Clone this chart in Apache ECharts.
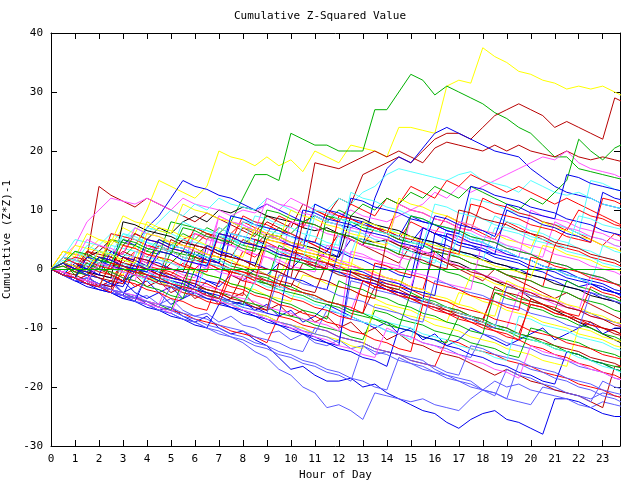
<!DOCTYPE html>
<html><head><meta charset="utf-8">
<script src="https://cdn.jsdelivr.net/npm/echarts@6/dist/echarts.min.js"></script>
<style>html,body{margin:0;padding:0;background:#fff}#c{width:640px;height:480px}</style>
</head><body><div id="c"></div>
<script>
const chartTitle = 'Cumulative Z-Squared Value';
const xName = 'Hour of Day';
const yName = 'Cumulative (Z*Z)-1';
const hours = [0,0.5,1,1.5,2,2.5,3,3.5,4,4.5,5,5.5,6,6.5,7,7.5,8,8.5,9,9.5,10,10.5,11,11.5,12,12.5,13,13.5,14,14.5,15,15.5,16,16.5,17,17.5,18,18.5,19,19.5,20,20.5,21,21.5,22,22.5,23,23.5,24];

const s01 = [0,2,1,3,5,4,7,6,10,15,14,13,12,14,20,19,18.5,17.5,19,17.5,18.5,16.5,20,19,18,21,20.5,20,19,24,24,23.5,23,31,32,31.5,37.5,36,35,33.5,33,32,31.5,30.5,31,30.5,31,30,29];
const s02 = [0,1,0,2,1,3,2,4,3,5,4,6,5,7,6,8,12,16,16,15,23,22,21,21,20,20,20,27,27,30,33,32,29.5,31,30,29,28,26.5,25.5,24,23,21,19,19,17,16.5,16,15.5,15];
const s03 = [0,-1,1,0,2,1,3,2,1,4,3,5,4,6,5,4,7,6,9,8,7,11,10,9,12,11,16,17,18,19,18,20,22,23,23,22,24,26,27,28,27,26,24,25,24,23,22,29,28];
const s04 = [0,1,0,-1,1,0,2,1,0,-1,1,3,2,4,3,2,5,4,6,5,8,7,18,17.5,17,18,19,20,19,20,19,18,20.5,21.5,21,20.5,20,21,20,21,20,19.5,19,20,19,18.5,19,18.5,18];
const s05 = [0,-1,-2,-1,-3,-2,-4,-3,-2,-4,-3,-5,-4,-2,-3,-1,-2,0,-1,1,0,2,1,3,2,5,4,12,17,19,18,20.5,23,24,23,22,21,20,19.5,19,17,15.5,14,13,12.5,12,11,10.5,10];
const s06 = [0,-1,-2,-3,-3.5,-4,-5,-4.5,-6,-7,-6.5,-8,-9,-8,-10,-11,-10.5,-12,-13,-15,-17,-16.5,-18,-19,-19,-18.5,-20,-19.5,-21,-22,-23,-24,-24.5,-26,-27,-25.5,-24.5,-24,-25.5,-26,-27,-28,-22,-22,-22.5,-23.5,-24.5,-25,-25];
const s07 = [0,-1,-1.5,-2.5,-3,-4,-4.5,-5.5,-6,-7,-7.5,-8.5,-9,-10,-11,-11.5,-12.5,-14,-15,-17,-18,-20,-21,-23.5,-23,-24,-25.5,-21,-21.5,-22,-22.5,-22,-23,-23.5,-24,-22,-20.5,-21,-22,-22.5,-23,-20,-20.5,-21,-21.5,-22,-21,-21.5,-22];
const s08 = [0,-0.5,-1.5,-2,-3,-2.5,-4,-5,-4.5,-6,-5,-7,-8,-7.5,-9,-8,-9.5,-10,-11,-10.5,-12,-11,-12.5,-13,-12,-13.5,-13,-14.5,-14,-14.5,-15,-15.5,-17,-18,-18.5,-19,-20.5,-19,-20,-19.5,-20.5,-21,-21.5,-22,-23,-23.5,-22.5,-23,-23.5];
const s09 = [0,1,0,-1,0,-1,-2,-1,-3,-2,-4,-3,-5,-4,-6,-5,-4,-6,-7,-6,-8,-7,-9,-8,-10,-9,-11,-10,-12,-11,-12.5,-13,-14,-14.5,-15,-16,-17,-18,-17,-18,-19,-19.5,-20.5,-21,-21.5,-22.5,-23.5,-16.5,-16.5];
const s10 = [0,1,0,2,3,5,4,6,5,7,6,8,9,8,10,9.5,10.5,10,9,8.5,8,7,6.5,7,6,5.5,5,4.5,5,4,3,2.5,3,1.5,1,0,-1,-2,-3,-3.5,-5,-6,-7,-8,-9,-10,-11,-12,-13];
const s11 = [0,1,3,2,14,12.5,11.5,10.5,12,11,10,9,8,9.5,8.5,7.5,6.5,5.5,8,7,6,5,4,3,6,5,4,3,2,1,4,3,2,1,0,-1,-2,0,-1,-2,-3,-4,-5,-4,-5,-6,-7,-8,-9];
const s12 = [0,-1,1,0,3,2,5,4,7,9,12,15,14,13.5,12.5,12,11,10,11,10,9,8,9,8,7.5,7,8,7,6,5,4.5,7,6,5,4,3.5,3,2,1.5,1,0,-0.5,-1.5,-2,-3,-2.5,-3.5,-4,-5];
const s13 = [0,2,4,8,10,12,11.5,11,12,11,10,12,11,10.5,10,9,10,9.5,11,10,12,11,10,9.5,9,10,9,8.5,8,9,10,11,13,12,14,13,14,15,16,17,18,19,18.5,20,18,17,16.5,16,15];
const s14 = [0,1,3,2,4,6,5,7,6,8,10,9,11,10,12,11,10.5,10,12,11,10,9,11,10,12,11,13,14,16,17,16.5,16,15.5,15,16,16.5,15,14.5,14,13,15,14,13,12.5,13,12,11,10.5,10];
const s15 = [0,-1,0,1,0,2,1,3,2,4,3,5,6,5,7,6,8,7,6,9,8,7,10,9,8,11,10,9,12,11,14,13,12,15,14,16,15,14,13,14,13,12,11,12,11,10,9,8,7];
const s16 = [0,1,-1,0,1,-1,-2,-1,0,2,1,3,2,4,3,5,4,6,5,7,6,8,9,8,10,9,11,10,12,11,13,12,14,13,12,14,13,12,11,10,12,11,13,15,22,20,18.5,20.5,21.5];
const s17 = [0,-1,-2,-1,-3,-2,-1,-3,-2,0,-1,1,0,2,1,-1,3,2,4,3,2,5,4,3,6,5,4,7,6,5,8,7,6,9,8,7,6,5,8,7,6,5,4,7,6,5,4,6,5];
const s18 = [0,-1,-2,-1.5,-2.5,-3,-2,-4,-5,-4,-6,-5,-3,-4,-5,-6,-5.5,-7,-6,-8,-7,-9,-8,-6,-7,-8,-9,-10,-9,-11,-10,-12,-11,-13,-12,-10,-11,-12,-13,-12,-11,-10,-12,-11,-10,-9,-11,-10,-10];
const s19 = [0,-0.5,-1.5,2,1.5,1,0,-0.5,-1.5,-2,3,2.5,2,1,0.5,-0.5,-1,-1.5,-2.5,4,3,2.5,2,1,0,-0.5,-1.5,-2,-3,-3.5,2,1,0.5,-0.5,-1,-2,-2.5,-3.5,-4,-5,-5.5,-6,-7,-2,-3,-3.5,-4.5,-5,-6];
const s20 = [0,1,0,-0.5,-1,3,2.5,2,1,0.5,0,-1,-1.5,5,4.5,4,3,2.5,2,1,8,7.5,7,6,5.5,5,4,3.5,3,2,1.5,7,6.5,6,5,4.5,4,3,2.5,2,10,9,8.5,8,7,6.5,6,5,4.5];
const s21 = [0,-1,-1.5,-2,1,0.5,0,-1,-1.5,-2,-3,2,1.5,1,0,-0.5,-1,-2,-2.5,3,2.5,2,1,0.5,6,5.5,5,4,3.5,3,2,1.5,1,7,6.5,6,5,4.5,4,3,2.5,8,7.5,7,6,5.5,5,4,3.5];
const s22 = [0,-0.5,-1,-2,-2.5,-3,1,0.5,0,-1,-1.5,-2,-3,-3.5,-4,-5,-1,-1.5,-2,-3,-3.5,-4,-5,-5.5,-6,-7,-7.5,-3,-3.5,-4.5,-5,-6,-6.5,-7,-8,-8.5,-9,-10,-10.5,-11,-6,-6.5,-7.5,-8,-9,-9.5,-10,-11,-11.5];
const s23 = [0,2,1.5,1,0,-0.5,-1,3,2.5,2,1,0.5,-0.5,-1,-1.5,-2.5,-3,-3.5,-4.5,-5,-5.5,-1,-1.5,-2.5,-3,-3.5,-4.5,-5,-6,-6.5,-7,-8,-8.5,-9,-4,-4.5,-5.5,-6,-7,-7.5,-8,-9,-9.5,-10,-11,-11.5,-12,-13,-13.5];
const s24 = [0,-1,-1.5,-2.5,-3,-3.5,-4.5,-5,-5.5,-6.5,-3,-3.5,-4,-5,-5.5,-6,-7,-7.5,-8,-9,-9.5,-10,-11,-7,-7.5,-8.5,-9,-9.5,-10.5,-11,-11.5,-12.5,-13,-13.5,-14.5,-15,-11,-11.5,-12.5,-13,-13.5,-14.5,-15,-15.5,-16.5,-17,-17.5,-18.5,-19];
const s25 = [0,3,2.5,2,1,0.5,0,-1,4,3.5,3,2,1.5,1,0,-0.5,-1,-2,-2.5,-3,2,1.5,1,0,-0.5,-1,-2,-2.5,-3,-4,-4.5,-5,-6,-6.5,-7,-8,-8.5,-4,-4.5,-5.5,-6,-6.5,-7.5,-8,-8.5,-9.5,-10,-10.5,-11.5];
const s26 = [0,-1,-1.5,-2,-3,-3.5,-4,-5,-5.5,-6,-7,-2,-2.5,-3.5,-4,-4.5,-5.5,-6,-6.5,-7.5,-8,-8.5,-9.5,-10,-10.5,-11.5,-12,-7,-7.5,-8.5,-9,-9.5,-10.5,-11,-11.5,-12.5,-13,-13.5,-14.5,-15,-10,-10.5,-11.5,-12,-12.5,-13.5,-14,-14.5,-15.5];
const s27 = [0,1,0.5,0,-1,-1.5,-2,2,1.5,1,0,-0.5,-1,-2,-2.5,6,5.5,5,4,3.5,3,2,1.5,1,0,-0.5,-1,-2,-2.5,-3,-4,5,4.5,4,3,2.5,2,1,0.5,0,-1,-1.5,-2,-3,-3.5,-4,-5,-5.5,-6];
const s28 = [0,-0.5,-1.5,-2,2,1.5,1,0,-0.5,-1,-2,-2.5,-3,1,0.5,0,-1,-1.5,-2,-3,-3.5,-4,-5,-5.5,-6,-7,-2,-2.5,-3.5,-4,-4.5,-5.5,-6,-6.5,-7.5,-8,-8.5,-9.5,-10,-4,-4.5,-5,-6,-6.5,-7,-8,-8.5,-9,-10];
const s29 = [0,2,5,4.5,4,3,2.5,2,7,6.5,6,5,4.5,4,3,9,8.5,8,7,6.5,6,5,4.5,4,3,2.5,8,7.5,7,6,5.5,5,4,3.5,3,2,1.5,7,6.5,6,5,4.5,4,3,2.5,2,1,0.5,0];
const s30 = [0,-1,-1.5,-2.5,-3,-3.5,-4.5,-5,-5.5,-6.5,-7,-7.5,-8.5,-9,-9.5,-10.5,-11,-11.5,-12.5,-8,-8.5,-9.5,-10,-10.5,-11.5,-12,-12.5,-13.5,-14,-14.5,-15.5,-16,-16.5,-12,-12.5,-13.5,-14,-14.5,-15.5,-16,-16.5,-17.5,-18,-18.5,-19.5,-20,-20.5,-21.5,-22];
const s31 = [0,1,4,3.5,3,2,1.5,1,0,5,4.5,4,3,2.5,2,1,0.5,0,-1,-1.5,3,2.5,2,1,0.5,0,-1,-1.5,-2,-3,-3.5,-4,-5,-5.5,-6,-1,-1.5,-2.5,-3,-3.5,-4.5,-5,-5.5,-6.5,-7,-7.5,-8.5,-9,-9.5];
const s32 = [0,-0.5,-1.5,-2,-2.5,-3.5,-4,-4.5,-5.5,-6,-6.5,-7.5,-8,-8.5,-9.5,-10,-10.5,-11.5,-12,-12.5,-13.5,-14,-10,-10.5,-11.5,-12,-12.5,-13.5,-14,-14.5,-15.5,-16,-16.5,-17.5,-18,-13,-13.5,-14.5,-15,-15.5,-16.5,-17,-17.5,-18.5,-19,-19.5,-20.5,-21,-21.5];
const s33 = [0,2,1.5,1,0,6,5.5,5,4,3.5,3,2,1.5,1,0,-0.5,-1,-2,5,4.5,4,3,2.5,2,1,0.5,0,-1,-1.5,-2,-3,-3.5,3,2.5,2,1,0.5,0,-1,-1.5,-2,-3,4,3.5,3,2,1.5,1,0];
const s34 = [0,-1,-1.5,-2,-3,1,0.5,0,-1,-1.5,-2,-3,-3.5,-4,-5,-5.5,-6,-2,-2.5,-3.5,-4,-4.5,-5.5,-6,-6.5,-7.5,-8,-8.5,-9.5,-10,-10.5,-11.5,-12,-12.5,-8,-8.5,-9.5,-10,-10.5,-11.5,-12,-12.5,-13.5,-14,-14.5,-15.5,-16,-16.5,-17];
const s35 = [0,-1,-2,-2.5,-3.5,-4,-5,-5.5,-6.5,-7,-8,-8.5,-9.5,-10,-6,-6.5,-7.5,-8,-9,-9.5,-10.5,-11,-12,-12.5,-13.5,-14,-15,-15.5,-16.5,-10,-10.5,-11.5,-12,-13,-13.5,-14.5,-15,-16,-16.5,-17.5,-18,-19,-19.5,-14,-14.5,-15.5,-16,-17,-17.5];
const s36 = [0,1,0.5,-0.5,-1,-1.5,-2.5,3,2.5,1.5,1,0.5,6,5.5,4.5,4,3.5,2.5,2,1.5,0.5,0,-0.5,4,3.5,2.5,2,1.5,0.5,0,9,8.5,7.5,7,6.5,5.5,5,4.5,3.5,3,2.5,1.5,1,0.5,-0.5,-1,-1.5,-2.5,-3];
const s37 = [0,1.5,1,0.5,-0.5,4,3.5,3,2,1.5,1,0,7,6.5,6,5,4.5,4,3,2.5,2,1,0.5,0,-1,8,7.5,7,6,5.5,5,4,3.5,3,2,12,11.5,11,10,9.5,9,8,7.5,7,6,15,14.5,13.5,13];
const s38 = [0,-0.5,-1.5,3,2.5,2,1,0.5,0,-1,-1.5,-2,2,1.5,1,0,-0.5,-1,-2,-2.5,-3,1,0.5,0,-1,-1.5,-2,-3,-3.5,-4,-5,-5.5,-6,-7,-7.5,-8,-9,-9.5,-10,-11,-11.5,-12,-13,-13.5,-14,-15,-15.5,-16,-17];
const s39 = [0,3,2.5,2,1,0.5,0,-1,-1.5,-2,-3,-3.5,-4,-5,-5.5,-6,-7,-7.5,-8,-9,-9.5,-10,-11,-11.5,-12,-13,-13.5,-6,-6.5,-7.5,-8,-8.5,-9.5,-10,-10.5,-11.5,-12,-12.5,-13.5,-14,-14.5,-15.5,-16,-16.5,-10,-10.5,-11.5,-12,-12.5];
const s40 = [0,-1,-1.5,-2.5,1,0.5,-0.5,-1,-1.5,-2.5,-3,-3.5,-4.5,-5,-5.5,-6.5,-7,-7.5,-8.5,-9,-9.5,-10.5,-11,-11.5,-12.5,-2,-2.5,-3.5,-4,-4.5,-5.5,-6,-6.5,-7.5,-8,-8.5,-9.5,-10,-3,-3.5,-4.5,-5,-5.5,-6.5,-7,-7.5,-8.5,-9,-9.5];
const s41 = [0,0.5,-0.5,-1,-1.5,-2.5,2,1.5,0.5,0,-0.5,-1.5,-2,-2.5,-3.5,-4,-4.5,5,4.5,3.5,3,2.5,1.5,1,0.5,-0.5,-1,-1.5,-2.5,-3,-3.5,-4.5,-5,-5.5,-6.5,-7,-7.5,-8.5,-9,-9.5,-10.5,-11,-11.5,-12.5,-13,-13.5,-14.5,-15,-15.5];
const s42 = [0,2,1.5,1,0,5,4.5,4,3,2.5,8,7.5,7,6,5.5,5,4,3.5,3,2,1.5,1,0,9,8.5,8,7,6.5,6,5,4.5,4,3,2.5,2,1,0.5,0,-1,-1.5,-2,-3,-3.5,-4,-5,-5.5,-6,-7,-7.5];
const s43 = [0,-1,-1.5,-2.5,-3,-3.5,-4.5,0,-0.5,-1.5,-2,-2.5,-3.5,-4,-4.5,-5.5,-6,-6.5,-7.5,-8,2,1.5,0.5,0,-0.5,-1.5,-2,-2.5,-3.5,-4,-4.5,-5.5,6,5.5,4.5,4,3.5,2.5,2,1.5,0.5,0,-0.5,-1.5,-2,-2.5,-3.5,-4,-4.5];
const s44 = [0,-0.5,-1.5,-2,-2.5,-3.5,-4,-4.5,-5.5,-6,-1,-1.5,-2.5,-3,-3.5,-4.5,-5,-5.5,-6.5,-7,-7.5,-8.5,-9,-9.5,-10.5,3,2.5,1.5,1,0.5,-0.5,-1,-1.5,-2.5,-3,-3.5,5,4.5,3.5,3,2.5,1.5,1,0.5,-0.5,-1,-1.5,-2.5,-3];
const s45 = [0,-1,2,1.5,1,0,-0.5,-1,-2,-2.5,-3,-4,-4.5,1,0.5,0,-1,-1.5,-2,-3,-3.5,-4,-5,-5.5,-6,-7,-7.5,-8,-9,-9.5,-10,-11,-11.5,-12,-13,-13.5,-14,-15,-15.5,-8,-8.5,-9.5,-10,-10.5,-11.5,-12,-12.5,-13.5,-14];
const s46 = [0,1,0.5,-0.5,-1,-1.5,8,7.5,6.5,6,5.5,4.5,4,3.5,2.5,2,1.5,0.5,6,5.5,4.5,4,3.5,2.5,2,9,8.5,7.5,7,6.5,5.5,5,4.5,3.5,3,2.5,1.5,1,0.5,-0.5,-1,-1.5,-2.5,-3,-3.5,-4.5,-5,-5.5,-6.5];
const s47 = [0,1,-0.5,2,4,3,2.5,6,5,4.5,3.5,3,7,6,5.5,4.5,9,8,7.5,6.5,6,5,4.5,10,9,8.5,7.5,7,6,11,10,9.5,8.5,8,7,6.5,12,11,10.5,9.5,9,8,7.5,6.5,10,9,8.5,7.5,7];
const s48 = [0,-1,1,0,-1,3,2,1.5,0.5,5,4,3.5,2.5,2,1,8,7,6.5,5.5,5,4,3.5,11,10,9.5,8.5,8,7,6.5,5.5,9,8,7.5,6.5,6,5,4.5,3.5,3,2,1.5,0.5,0,-1,-1.5,-2.5,-3,-4,-4.5];
const s49 = [0,2,1,4,3,2.5,6,5.5,4.5,4,3,8,7,6.5,5.5,5,4,9,8.5,7.5,7,6,5.5,4.5,4,13,12,11.5,10.5,10,9,8.5,7.5,7,6,5.5,4.5,9,8,7.5,6.5,6,5,4.5,3.5,3,2,1.5,0.5];
const s50 = [0,-0.5,1.5,1,0,-0.5,-1.5,-2,4,3,2.5,1.5,1,0,9,8,7.5,6.5,6,5,4.5,3.5,3,2,1.5,0.5,0,-1,-1.5,-2.5,-3,3,2,1.5,0.5,0,-1,-1.5,-2.5,-3,-4,-4.5,-5.5,-6,-7,-1,-2,-2.5,-3.5];
const s51 = [0,1,0,3,2,1.5,0.5,0,-1,-1.5,5,4,3.5,2.5,2,1,0.5,-0.5,-1,-2,-2.5,-3.5,-4,1,0,-0.5,-1.5,-2,-3,-3.5,-4.5,-5,-6,-6.5,-7.5,-8,-9,-3,-4,-4.5,-5.5,-6,-7,-7.5,-8.5,-9,-10,-10.5,-11.5];
const s52 = [0,1,3,2,1.5,5,4,3.5,8,7,6.5,5.5,5,4,3.5,2.5,2,7,6,5.5,4.5,4,3,2.5,1.5,1,0,-0.5,-1.5,-2,-3,-3.5,-4.5,-5,-6,-6.5,-7.5,-8,-2,-3,-3.5,-4.5,-5,-6,-6.5,-7.5,-8,-9,-9.5];
const s53 = [0,-1,-2,-1.5,-2.5,-3.5,-4,-5,-5.5,-6.5,-7,-8,-8.5,-9.5,-10,-11,-11.5,-12.5,-13,-14,-14.5,-15.5,-16,-17,-17.5,-18.5,-19,-20,-20.5,-15,-16,-16.5,-17.5,-18,-19,-19.5,-20.5,-21,-22,-16,-17,-17.5,-18.5,-19,-20,-20.5,-21.5,-22,-23];
const s54 = [0,0.5,-0.5,-1,2,1,0.5,-0.5,-1,-2,-2.5,-3.5,3,2,1.5,0.5,0,-1,-1.5,-2.5,-3,-4,-4.5,-5.5,-6,-7,-7.5,-8.5,-9,-10,-4,-5,-5.5,-6.5,-7,-8,-8.5,-9.5,-10,-11,-11.5,-12.5,-13,-14,-14.5,-15.5,-16,-17,-17.5];
const s55 = [0,-1,-1.5,-2.5,-3,-4,-4.5,-5.5,-1,-2,-2.5,-3.5,-4,-5,-5.5,-6.5,-7,-8,-8.5,-9.5,-10,-11,-11.5,-12.5,-13,0,-0.5,-1.5,-2,-2.5,-3.5,-4,-4.5,6,5.5,4.5,4,3.5,2.5,2,1.5,0.5,0,-0.5,-1.5,-2,-2.5,-3.5,-4];
const s56 = [0,2,1,0.5,-0.5,-1,-2,-2.5,-3.5,-4,-5,-5.5,-6.5,-7,-2,-3,-3.5,-4.5,-5,-6,-6.5,-7.5,-8,-9,-9.5,-10.5,-11,-12,-12.5,-13.5,-14,-6,-7,-7.5,-8.5,-9,-10,-10.5,-11.5,-12,-13,-13.5,-14.5,-15,-16,-16.5,-17.5,-18,-19];
const s57 = [0,1,0,-1,-1.5,-2.5,1,0,-0.5,-1.5,-2,-3,-3.5,-4.5,-5,-6,-6.5,-2,-3,-3.5,-4.5,-5,-6,-6.5,-7.5,-8,-9,-9.5,-10.5,-11,-12,-5,-6,-6.5,-7.5,-8,-9,-9.5,-10.5,-11,-12,-12.5,-13.5,-14,-15,-15.5,-16.5,-17,-18];
const s58 = [0,2,1.5,5,4,3.5,2.5,7,6,5.5,4.5,4,3,2.5,9,8,7.5,6.5,12,11,10.5,9.5,9,8,7.5,6.5,6,5,4.5,11,10,9.5,8.5,8,7,6.5,5.5,5,4,3.5,2.5,2,8,7,6.5,5.5,5,4,3.5];
const s59 = [0,-0.5,-1.5,-2,-3,-3.5,2,1,0.5,-0.5,-1,-2,-2.5,-3.5,-4,-5,-5.5,-6.5,-7,1,0,-0.5,-1.5,-2,-3,-3.5,-4.5,-5,5,4,3.5,2.5,2,1,0.5,-0.5,-1,-2,-2.5,-3.5,-4,-5,-5.5,-6.5,-7,-8,-8.5,-9.5,-10];
const s60 = [0,-1,-1.5,-2.5,-3,-4,-4.5,-5.5,-6,-7,-7.5,-8.5,-9,-10,-10.5,-11.5,-12,-13,-13.5,-14.5,-15,-16,-16.5,-17.5,-18,-19,-13,-14,-14.5,-15.5,-16,-17,-17.5,-18.5,-19,-20,-20.5,-21.5,-17,-18,-18.5,-19.5,-20,-21,-21.5,-22.5,-19,-20,-20.5];
const s61 = [0,3,2,6,5,4.5,9,8,7.5,6.5,6,11,10,9.5,8.5,8,7,6.5,5.5,5,10,9,8.5,7.5,7,6,5.5,4.5,4,12,11,10.5,9.5,9,8,7.5,6.5,6,5,4.5,3.5,8,7,6.5,5.5,5,4,3.5,2.5];
const s62 = [0,-1,-1.5,1,0,-0.5,-1.5,-2,-3,-3.5,-4.5,-5,0,-1,-1.5,-2.5,-3,-4,-4.5,-5.5,-6,-7,-7.5,-8.5,-2,-3,-3.5,-4.5,-5,-6,-6.5,-7.5,-8,-9,-9.5,-10.5,-11,-4,-5,-5.5,-6.5,-7,-8,-8.5,-9.5,-10,-11,-11.5,-12.5];
const s63 = [0,1,0,-1,-1.5,-2.5,-3,1,0,-0.5,-1.5,-2,-3,4,3,2.5,1.5,1,0,-0.5,-1.5,-2,-3,-3.5,3,2,1.5,0.5,0,-1,-1.5,7,6,5.5,4.5,4,3,2.5,10,9,8.5,7.5,7,6,5.5,4.5,13,12,11.5];
const s64 = [0,-1,-1.5,-2.5,-3,-4,0,-1,-1.5,-2.5,-3,-4,-4.5,-5.5,-6,-1,-2,-2.5,-3.5,-4,-5,-5.5,-6.5,-7,-8,-8.5,-2,-3,-3.5,-4.5,-5,-6,-6.5,-7.5,-8,-9,-9.5,-10.5,-11,-12,-5,-6,-6.5,-7.5,-8,-3,-4,-4.5,-5.5];
const s65 = [0,1,3,2,1.5,0.5,6,5,4.5,3.5,3,2,1.5,0.5,7,6,5.5,4.5,4,3,2.5,1.5,9,8,7.5,6.5,6,5,4.5,3.5,3,2,1.5,0.5,6,5,4.5,3.5,3,2,1.5,0.5,0,-1,-1.5,-2.5,4,3,2.5];
const s66 = [0,-0.5,-1.5,-2,-3,-3.5,-4.5,-5,-6,-6.5,-7.5,-3,-4,-4.5,-5.5,-6,-7,-7.5,-8.5,-9,-10,-10.5,-11.5,-12,-13,-13.5,-14.5,-15,-10,-11,-11.5,-12.5,-13,-14,-14.5,-15.5,-16,-17,-17.5,-18.5,-13,-14,-14.5,-15.5,-16,-17,-17.5,-18.5,-19];
const s67 = [0,-1,-1.5,2,1.5,0.5,0,-0.5,5,4.5,3.5,3,2.5,1.5,1,9,8.5,7.5,7,6.5,5.5,5,4.5,3.5,3,12,11.5,10.5,10,9.5,8.5,8,7.5,6.5,6,14,13.5,12.5,12,11.5,10.5,10,9.5,8.5,8,7.5,6.5,6,5.5];
const s68 = [0,1,2,1.5,0.5,0,4,3.5,2.5,2,1.5,0.5,0,-0.5,6,5.5,4.5,4,3.5,2.5,2,1.5,0.5,0,9,8.5,7.5,7,6.5,5.5,5,4.5,3.5,3,2.5,11,10.5,9.5,9,8.5,7.5,7,6.5,5.5,5,4.5,12,11.5,10.5];
const s69 = [0,2,1.5,0.5,3,2.5,1.5,1,0.5,-0.5,4,3.5,2.5,2,1.5,0.5,8,7.5,6.5,6,5.5,4.5,10,9.5,8.5,8,7.5,6.5,6,5.5,4.5,4,11,10.5,9.5,9,8.5,7.5,7,6.5,5.5,5,4.5,3.5,9,8.5,7.5,7,6.5];
const s70 = [0,-0.5,-1.5,-2,1,0.5,-0.5,-1,-1.5,3,2.5,1.5,1,0.5,-0.5,-1,-1.5,-2.5,4,3.5,2.5,2,1.5,0.5,0,7,6.5,5.5,5,4.5,3.5,3,2.5,1.5,8,7.5,6.5,6,5.5,4.5,4,3.5,2.5,2,1.5,0.5,0,-0.5,-1.5];
const s71 = [0,1,0,-0.5,-1.5,-2,-2.5,2,1.5,0.5,0,-0.5,4,3.5,2.5,2,1.5,0.5,0,-0.5,-1.5,8,7.5,6.5,6,5.5,4.5,4,3.5,2.5,2,1.5,0.5,0,10,9.5,8.5,8,7.5,6.5,6,5.5,4.5,4,3.5,2.5,2,1.5,0.5];
const s72 = [0,-1,-1.5,-2.5,-3,-3.5,-4.5,-5,-1,-1.5,-2.5,-3,-3.5,-4.5,-5,-5.5,-6.5,-7,-7.5,-1,-1.5,-2.5,-3,-3.5,-4.5,-5,-5.5,-6.5,-7,-7.5,-8.5,-9,-2,-2.5,-3.5,-4,-4.5,-5.5,-6,-6.5,-7.5,-8,-8.5,-9.5,-10,-4,-4.5,-5.5,-6];
const s73 = [0,1,0.5,-0.5,3,2.5,1.5,1,6,5.5,4.5,4,3.5,2.5,2,1.5,0.5,0,5,4.5,3.5,3,2.5,1.5,1,0.5,8,7.5,6.5,6,5.5,4.5,4,3.5,2.5,2,1.5,0.5,0,-0.5,-1.5,4,3.5,2.5,2,1.5,0.5,0,-0.5];
const s74 = [0,1,3,2.5,1.5,1,5,4.5,3.5,3,2.5,7,6.5,5.5,5,4.5,3.5,3,10,9.5,8.5,8,7.5,6.5,6,5.5,4.5,4,3.5,2.5,9,8.5,7.5,7,6.5,5.5,5,4.5,3.5,3,2.5,1.5,1,0.5,-0.5,-1,-1.5,-2.5,-3];
const s75 = [0,1,0,-0.5,2,1.5,0.5,0,-0.5,3,2.5,1.5,1,0.5,6,5.5,4.5,4,3.5,2.5,2,10,9.5,8.5,8,7.5,6.5,6,5.5,4.5,4,3.5,9,8.5,7.5,7,6.5,5.5,11,10.5,9.5,9,8.5,16,15.5,14.5,14,13.5,13];
const s76 = [0,-1,-1.5,-2.5,-3,1,0.5,-0.5,-1,-1.5,-2.5,-3,-3.5,-4.5,-5,0,-0.5,-1.5,-2,-2.5,-3.5,-4,-4.5,-5.5,-6,-6.5,-7.5,1,0.5,-0.5,-1,-1.5,-2.5,-3,-3.5,-4.5,-5,-5.5,-6.5,-7,2,1.5,0.5,0,-0.5,-1.5,-2,-2.5,-3.5];

const allSeries = [s01,s02,s03,s04,s05,s06,s07,s08,s09,s10,s11,s12,s13,s14,s15,s16,s17,s18,s19,s20,s21,s22,s23,s24,s25,s26,s27,s28,s29,s30,s31,s32,s33,s34,s35,s36,s37,s38,s39,s40,s41,s42,s43,s44,s45,s46,s47,s48,s49,s50,s51,s52,s53,s54,s55,s56,s57,s58,s59,s60,s61,s62,s63,s64,s65,s66,s67,s68,s69,s70,s71,s72,s73,s74,s75,s76];

const C = {red:'#ff0000', green:'#00b000', blue:'#0000ee', mag:'#ff55ff', cyan:'#55ffff', dred:'#b80000', yel:'#ffff00', lblue:'#5c5cff', black:'#000000'};
const seriesColors = [C.yel,C.green,C.dred,C.dred,C.blue,C.blue,C.lblue,C.lblue,C.dred,C.black,
  C.dred,C.blue,C.mag,C.cyan,C.red,C.green,C.red,C.blue,C.green,C.mag,
  C.cyan,C.dred,C.yel,C.lblue,C.red,C.green,C.blue,C.mag,C.cyan,C.red,
  C.yel,C.lblue,C.red,C.green,C.blue,C.mag,C.cyan,C.dred,C.yel,C.lblue,
  C.red,C.green,C.blue,C.mag,C.cyan,C.black,
  C.red,C.blue,C.cyan,C.mag,C.dred,C.yel,C.lblue,C.green,C.blue,C.red,
  C.cyan,C.mag,C.dred,C.lblue,C.yel,C.green,C.blue,C.red,C.cyan,C.mag,
  C.blue,C.red,C.cyan,C.mag,C.dred,C.lblue,C.yel,C.green,C.blue,C.red];

const FONT = 'DejaVu Sans Mono';
const chart = echarts.init(document.getElementById('c'), null, {renderer:'canvas'});

const tickStyle = {show:true, inside:true, length:6, lineStyle:{color:'#000', width:1}};
const lineStyleAx = {show:true, onZero:false, lineStyle:{color:'#000', width:1}};

const series = allSeries.map((vals, i) => ({
  type:'line', name:'s'+(i+1), showSymbol:false, symbol:'none', silent:true, animation:false,
  lineStyle:{width:1, color:seriesColors[i]}, itemStyle:{color:seriesColors[i]},
  emphasis:{disabled:true},
  data: vals.map((v, k) => [hours[k], v])
}));
series[0].markLine = {silent:true, symbol:'none', animation:false, label:{show:false},
  lineStyle:{color:C.green, type:'solid', width:1}, data:[{yAxis:0}]};

chart.setOption({
  backgroundColor:'#fff',
  animation:false,
  title:{text:chartTitle, left:'center', top:11, padding:0, textStyle:{fontFamily:FONT, fontSize:11, fontWeight:'normal', color:'#000'}},
  grid:{left:51, right:20, top:33, bottom:34, containLabel:false, outerBoundsMode:'none'},
  xAxis:[
    {type:'value', position:'bottom', min:0, max:23.72, interval:1,
     name:xName, nameLocation:'middle', nameGap:23, nameTextStyle:{fontFamily:FONT, fontSize:11, color:'#000'},
     axisLine:lineStyleAx, axisTick:tickStyle, splitLine:{show:false},
     axisLabel:{fontFamily:FONT, fontSize:11, color:'#000', margin:8, showMaxLabel:false,
       formatter:v => (Math.abs(v - Math.round(v)) < 1e-6 ? String(Math.round(v)) : '')}},
    {type:'value', position:'top', min:0, max:23.72, interval:1,
     axisLine:lineStyleAx, axisTick:tickStyle, splitLine:{show:false}, axisLabel:{show:false}}
  ],
  yAxis:[
    {type:'value', position:'left', min:-30, max:40, interval:10,
     name:yName, nameLocation:'middle', nameGap:35, nameRotate:90, nameTextStyle:{fontFamily:FONT, fontSize:11, color:'#000'},
     axisLine:lineStyleAx, axisTick:tickStyle, splitLine:{show:false},
     axisLabel:{fontFamily:FONT, fontSize:11, color:'#000', margin:8}},
    {type:'value', position:'right', min:-30, max:40, interval:10,
     axisLine:lineStyleAx, axisTick:tickStyle, splitLine:{show:false}, axisLabel:{show:false}}
  ],
  series: series
});
</script></body></html>
